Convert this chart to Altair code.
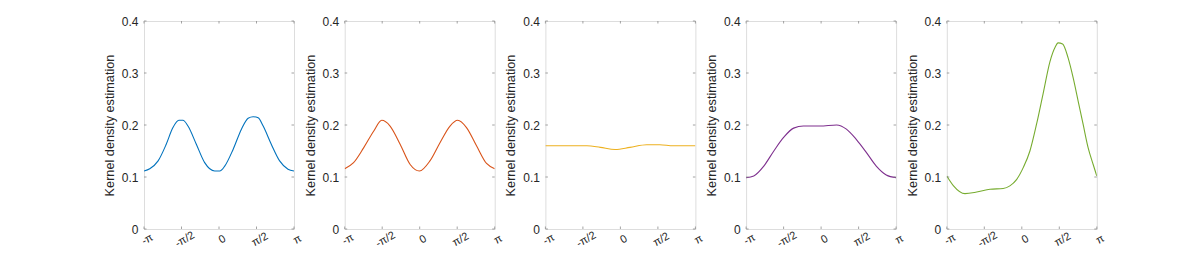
import altair as alt
import pandas as pd
import numpy as np

PI = np.pi

# Panel 1 (blue)
x1 = [-3.1416, -2.90, -2.55, -2.21, -1.93, -1.68, -1.51, -1.30, -0.95, -0.60, -0.18, 0.03, 0.24, 0.59, 0.94, 1.22, 1.43, 1.64, 1.85, 2.19, 2.54, 2.89, 3.1416]
y1 = [0.1115, 0.116, 0.131, 0.163, 0.195, 0.209, 0.209, 0.198, 0.163, 0.1276, 0.1115, 0.1115, 0.121, 0.153, 0.192, 0.213, 0.216, 0.214, 0.198, 0.163, 0.131, 0.115, 0.1115]

# Panel 2 (orange)
x2 = [-3.1416, -2.77, -2.35, -1.93, -1.59, -1.24, -0.82, -0.40, -0.01, 0.43, 0.85, 1.27, 1.59, 1.96, 2.38, 2.80, 3.1416]
y2 = [0.116, 0.1276, 0.156, 0.188, 0.209, 0.198, 0.163, 0.124, 0.1115, 0.131, 0.166, 0.198, 0.209, 0.195, 0.160, 0.126, 0.116]

# Panel 3 (yellow)
x3 = [-3.1416, -2.2, -1.40, -0.84, -0.22, 0.40, 1.10, 1.65, 2.21, 3.1416]
y3 = [0.160, 0.160, 0.160, 0.157, 0.153, 0.157, 0.162, 0.162, 0.160, 0.160]

# Panel 4 (purple)
x4 = [-3.1416, -2.82, -2.40, -1.98, -1.57, -1.15, -0.74, -0.05, 0.65, 1.06, 1.48, 1.90, 2.31, 2.73, 3.1416]
y4 = [0.0987, 0.102, 0.121, 0.150, 0.176, 0.194, 0.198, 0.198, 0.200, 0.192, 0.172, 0.147, 0.121, 0.104, 0.0987]

# Panel 5 (green)
x5 = [-3.1416, -2.86, -2.38, -1.89, -1.33, -0.78, -0.50, -0.22, 0.06, 0.34, 0.62, 0.90, 1.18, 1.40, 1.52, 1.71, 1.94, 2.15, 2.36, 2.57, 2.78, 2.99, 3.1416]
y5 = [0.102, 0.083, 0.068, 0.071, 0.0765, 0.078, 0.083, 0.095, 0.118, 0.150, 0.202, 0.262, 0.322, 0.350, 0.358, 0.356, 0.329, 0.291, 0.246, 0.201, 0.156, 0.124, 0.102]

colors = ["#0072BD", "#D95319", "#EDB120", "#7E2F8E", "#77AC30"]

x_ticks = [-PI, -PI / 2, 0.0, PI / 2, PI]
x_tick_labels = ["-π", "-π/2", "0", "π/2", "π"]
y_ticks = [0.0, 0.1, 0.2, 0.3, 0.4]

W, H = 150, 208
TICK = 2.5
AXIS_GRAY = "#8c8c8c"
TEXT = "#262626"
FONT = "Liberation Sans"

label_expr = ""
for i, (v, lab) in enumerate(zip(x_ticks, x_tick_labels)):
    if i < len(x_ticks) - 1:
        label_expr += f"datum.value < {v + 0.3:.4f} ? '{lab}' : "
    else:
        label_expr += f"'{lab}'"

xscale = alt.Scale(domain=[-PI, PI], nice=False, zero=False)
yscale = alt.Scale(domain=[0, 0.4], nice=False, zero=True)

xaxis = alt.Axis(values=x_ticks, labelExpr=label_expr, ticks=False, grid=False, domain=False,
                 labelAngle=330, labelFontSize=11, labelColor=TEXT, labelFont=FONT,
                 labelPadding=5, labelOverlap=False, labelSeparation=0, labelFlush=False,
                 labelBound=False, labelAlign="center", labelBaseline="top", title=None)
yaxis = alt.Axis(values=y_ticks, labelExpr="datum.value == 0 ? '0' : format(datum.value, '.1f')",
                 ticks=False, grid=False, domain=False, labelFontSize=12, labelColor=TEXT,
                 labelFont=FONT, labelPadding=6, labelFlush=False, labelBound=False,
                 title="Kernel density estimation", titleFont=FONT, titleFontSize=12.7,
                 titleFontWeight="normal", titleColor=TEXT, titlePadding=5)

xt_df = pd.DataFrame({"v": x_ticks})
yt_df = pd.DataFrame({"v": y_ticks})

series = [(x1, y1), (x2, y2), (x3, y3), (x4, y4), (x5, y5)]
panels = []
for (xs, ys), c in zip(series, colors):
    df = pd.DataFrame({"x": xs, "y": ys})
    line = alt.Chart(df).mark_line(color=c, strokeWidth=1.1, clip=True, interpolate="monotone").encode(
        x=alt.X("x:Q", scale=xscale, axis=xaxis),
        y=alt.Y("y:Q", scale=yscale, axis=yaxis),
    )
    xb = alt.Chart(xt_df).mark_rule(color=AXIS_GRAY, strokeWidth=0.8).encode(
        x=alt.X("v:Q", scale=xscale, axis=xaxis), y=alt.value(H), y2=alt.value(H - TICK))
    xtop = alt.Chart(xt_df).mark_rule(color=AXIS_GRAY, strokeWidth=0.8).encode(
        x=alt.X("v:Q", scale=xscale, axis=xaxis), y=alt.value(0), y2=alt.value(TICK))
    yl = alt.Chart(yt_df).mark_rule(color=AXIS_GRAY, strokeWidth=0.8).encode(
        y=alt.Y("v:Q", scale=yscale, axis=yaxis), x=alt.value(0), x2=alt.value(TICK))
    yr = alt.Chart(yt_df).mark_rule(color=AXIS_GRAY, strokeWidth=0.8).encode(
        y=alt.Y("v:Q", scale=yscale, axis=yaxis), x=alt.value(W), x2=alt.value(W - TICK))
    panel = alt.layer(line, xb, xtop, yl, yr).properties(width=W, height=H)
    panels.append(panel)

chart = alt.hconcat(*panels, spacing=50.7, bounds="flush").properties(
    padding={"left": 94, "top": 6, "right": 5, "bottom": 5},
).configure_view(stroke=AXIS_GRAY, strokeWidth=1).configure(background="white")

chart.save("out.html", embed_options={"renderer": "svg", "actions": False})
